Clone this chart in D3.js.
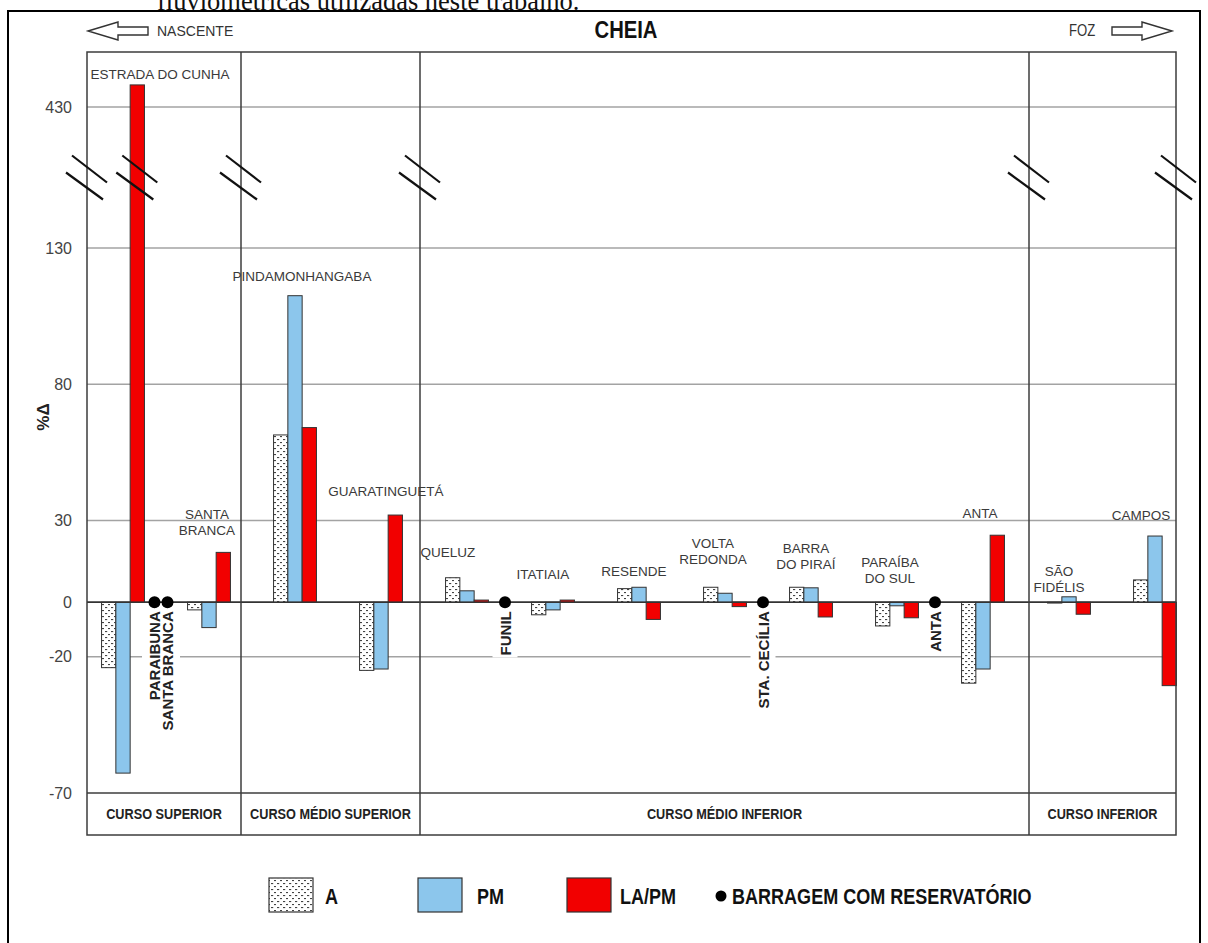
<!DOCTYPE html>
<html>
<head>
<meta charset="utf-8">
<script src="https://cdn.jsdelivr.net/npm/d3@7"></script>
<style>
  body { margin: 0; background: #fff; }
  svg { display: block; }
  .sans { font-family: "Liberation Sans", Arial, sans-serif; }
</style>
</head>
<body>
<svg id="chart" width="1208" height="943"></svg>
<script>
// ---- data ----------------------------------------------------------
const stations = ["ESTRADA DO CUNHA", "SANTA BRANCA", "PINDAMONHANGABA", "GUARATINGUETÁ",
  "QUELUZ", "ITATIAIA", "RESENDE", "VOLTA REDONDA", "BARRA DO PIRAÍ", "PARAÍBA DO SUL",
  "ANTA", "SÃO FIDÉLIS", "CAMPOS"];
const stationLines = [["ESTRADA DO CUNHA"], ["SANTA", "BRANCA"], ["PINDAMONHANGABA"], ["GUARATINGUETÁ"],
  ["QUELUZ"], ["ITATIAIA"], ["RESENDE"], ["VOLTA", "REDONDA"], ["BARRA", "DO PIRAÍ"], ["PARAÍBA", "DO SUL"],
  ["ANTA"], ["SÃO", "FIDÉLIS"], ["CAMPOS"]];
const seriesNames = ["A", "PM", "LA/PM"];
const valuesA    = [-24, -2.8, 61.4, -25, 9, -4.6, 5, 5.5, 5.5, -8.7, -29.7, -0.3, 8.2];
const valuesPM   = [-62.7, -9.3, 112.5, -24.5, 4.2, -2.8, 5.5, 3.3, 5.3, -1.3, -24.5, 2, 24.3];
const valuesLAPM = [477, 18.3, 64.1, 32, 0.8, 0.8, -6.3, -1.6, -5.4, -5.7, 24.6, -4.4, -30.6];
// dams with reservoir, listed with the gauging station just upstream of them
const damNames = ["PARAIBUNA", "SANTA BRANCA", "FUNIL", "STA. CECÍLIA", "ANTA"];
const damAfter = ["ESTRADA DO CUNHA", "ESTRADA DO CUNHA", "QUELUZ", "VOLTA REDONDA", "PARAÍBA DO SUL"];
const sectionNames = ["CURSO SUPERIOR", "CURSO MÉDIO SUPERIOR", "CURSO MÉDIO INFERIOR", "CURSO INFERIOR"];
const sectionFirst = ["ESTRADA DO CUNHA", "PINDAMONHANGABA", "QUELUZ", "SÃO FIDÉLIS"];
const yTicks = [-70, -20, 0, 30, 80, 130, 430];
const legendLabels = ["A", "PM", "LA/PM"];
const damLegendLabel = "BARRAGEM COM RESERVATÓRIO";

// ---- layout --------------------------------------------------------
const frame = { left: 87, right: 1176, top: 52, rowBottom: 835 };
const dividerNudge = [0, -11, -4, 3];
const labelNudge = {
  "ESTRADA DO CUNHA": [37, 12], "SANTA BRANCA": [-2, 0], "PINDAMONHANGABA": [7, 3],
  "GUARATINGUETÁ": [5, -2], "QUELUZ": [-19, -3], "ITATIAIA": [-10, -4], "RESENDE": [-5, 6],
  "VOLTA REDONDA": [-12, -6], "BARRA DO PIRAÍ": [-5, -1], "PARAÍBA DO SUL": [-7, -2],
  "ANTA": [-3, 0], "SÃO FIDÉLIS": [-10, 13], "CAMPOS": [-14, 1]
};
const colors = { "PM": "#8cc6ec", "LA/PM": "#f20000" };
const gridColor = "#a3a3a3", frameColor = "#3c3c3c";

const svg = d3.select("#chart");

// condensed lettering: regular sans squeezed horizontally
function narrowText(parent, x, yy, txt, size, opts = {}) {
  const g = parent.append("g").attr("transform", `translate(${x},${yy}) scale(${opts.squeeze || 0.82},1)`);
  return g.append("text").attr("x", 0).attr("y", 0)
    .attr("class", "sans").attr("font-size", size)
    .attr("font-weight", opts.weight || "normal")
    .attr("fill", opts.fill || "#111")
    .attr("text-anchor", opts.anchor || "start")
    .attr("dominant-baseline", "central")
    .text(txt);
}

// dotted fill for series A
const defs = svg.append("defs");
const pat = defs.append("pattern").attr("id", "dots").attr("patternUnits", "userSpaceOnUse")
  .attr("width", 6).attr("height", 6);
pat.append("rect").attr("width", 6).attr("height", 6).attr("fill", "#fff");
pat.append("rect").attr("x", 1).attr("y", 1).attr("width", 2.2).attr("height", 1.1).attr("fill", "#444");
pat.append("rect").attr("x", 4).attr("y", 4).attr("width", 2.2).attr("height", 1.1).attr("fill", "#444");

// scales: broken value axis (polylinear) and station bands
const y = d3.scaleLinear().domain([-70, 130, 430]).range([793, 248, 107]);
const x = d3.scaleBand().domain(stations).range([80, 1198]);
const step = x.step();
const barW = 14.3;
const xs = d3.scaleBand().domain(seriesNames)
  .range([x.bandwidth() / 2 - 1.5 * barW, x.bandwidth() / 2 + 1.5 * barW]);
const fillOf = k => k === "A" ? "url(#dots)" : colors[k];

// caption line of the page above the figure
svg.append("text").attr("x", 157).attr("y", 9.5)
  .attr("font-family", "Liberation Serif, Times New Roman, serif").attr("font-size", 26.5)
  .attr("fill", "#111").text("fluviométricas utilizadas neste trabalho.");

// outer box
svg.append("rect").attr("x", 8).attr("y", 11).attr("width", 1192).attr("height", 960)
  .attr("fill", "none").attr("stroke", "#000").attr("stroke-width", 2);

// section dividers
const dividers = sectionFirst.map((s, i) => i === 0 ? frame.left : x(s) + dividerNudge[i]);
const cells = dividers.map((d, i) => [d, i < dividers.length - 1 ? dividers[i + 1] : frame.right]);

// gridlines
const grid = svg.append("g");
grid.selectAll("line").data(yTicks.filter(t => t !== -70)).join("line")
  .attr("x1", frame.left).attr("x2", frame.right)
  .attr("y1", d => y(d)).attr("y2", d => y(d))
  .attr("stroke", d => d === 0 ? "#333" : gridColor)
  .attr("stroke-width", d => d === 0 ? 1.6 : 1.3);

// value axis labels
const yAxis = d3.axisLeft(y).tickValues(yTicks).tickSize(0).tickPadding(15).tickFormat(d => String(d));
const axG = svg.append("g").attr("transform", `translate(${frame.left},0)`).call(yAxis);
axG.select(".domain").remove();
axG.selectAll("text").attr("font-family", "Liberation Sans, Arial, sans-serif")
  .attr("font-size", 16).attr("fill", "#444");

svg.append("text").attr("transform", `translate(43,417) rotate(-90)`)
  .attr("text-anchor", "middle").attr("dominant-baseline", "central")
  .attr("class", "sans").attr("font-weight", "bold").attr("font-size", 17).attr("fill", "#222")
  .text("%Δ");

// bars
const rows = stations.map((s, i) => ({ station: s, vals: [valuesA[i], valuesPM[i], valuesLAPM[i]] }));
const groups = svg.append("g").selectAll("g").data(rows).join("g")
  .attr("transform", d => `translate(${x(d.station)},0)`);
groups.selectAll("rect").data(d => d.vals.map((v, k) => ({ key: seriesNames[k], v })))
  .join("rect")
  .attr("x", d => xs(d.key)).attr("width", xs.bandwidth())
  .attr("y", d => y(Math.max(0, d.v)))
  .attr("height", d => Math.abs(y(d.v) - y(0)))
  .attr("fill", d => fillOf(d.key))
  .attr("stroke", "#333").attr("stroke-width", 1);

// redraw zero line on top of bars
svg.append("line").attr("x1", frame.left).attr("x2", frame.right)
  .attr("y1", y(0)).attr("y2", y(0)).attr("stroke", "#333").attr("stroke-width", 1.4);

// frame, dividers and course row
const fr = svg.append("g").attr("stroke", frameColor).attr("stroke-width", 1.5).attr("fill", "none");
fr.append("rect").attr("x", frame.left).attr("y", frame.top)
  .attr("width", frame.right - frame.left).attr("height", frame.rowBottom - frame.top);
fr.append("line").attr("x1", frame.left).attr("x2", frame.right).attr("y1", y(-70)).attr("y2", y(-70));
fr.selectAll("line.div").data(dividers.slice(1)).join("line").attr("class", "div")
  .attr("x1", d => d).attr("x2", d => d).attr("y1", frame.top).attr("y2", frame.rowBottom);

const secG = svg.append("g");
sectionNames.forEach((name, i) => {
  narrowText(secG, (cells[i][0] + cells[i][1]) / 2, (y(-70) + frame.rowBottom) / 2, name, 15.5,
    { weight: "bold", anchor: "middle", fill: "#222" });
});

// scale-break marks
const yBreak = (y(130) + y(430)) / 2;
const estradaTop = x("ESTRADA DO CUNHA") + xs("LA/PM") + xs.bandwidth() / 2;
const breakXs = [frame.left, estradaTop, dividers[1], dividers[2], dividers[3], frame.right];
const brk = svg.append("g").attr("stroke", "#111").attr("stroke-width", 2.2);
breakXs.forEach(cx => {
  brk.append("line").attr("x1", cx - 15).attr("y1", yBreak - 22).attr("x2", cx + 20).attr("y2", yBreak + 5);
  brk.append("line").attr("x1", cx - 21).attr("y1", yBreak - 5).attr("x2", cx + 16).attr("y2", yBreak + 22);
});

// station labels
const lab = svg.append("g").attr("class", "sans").attr("font-size", 13.5).attr("fill", "#3a3a3a")
  .attr("text-anchor", "middle");
rows.forEach((r, i) => {
  const nd = labelNudge[r.station] || [0, 0];
  const cx = x(r.station) + step / 2 + nd[0];
  const top = y(Math.max(0, d3.max(r.vals))) - 22 + nd[1];
  const lines = stationLines[i];
  lines.forEach((t, j) => {
    lab.append("text").attr("x", cx).attr("y", top - (lines.length - 1 - j) * 16)
      .attr("dominant-baseline", "central").text(t);
  });
});

// dams: white backing under each vertical name, then the names, then the dots
const damPos = damNames.map((n, i) => {
  const same = damAfter.map((a, j) => ({ a, j })).filter(o => o.a === damAfter[i]).map(o => o.j);
  const k = same.indexOf(i), n2 = same.length;
  return x(damAfter[i]) + step - 5 + (k - (n2 - 1) / 2) * 13;
});
const damBg = svg.append("g"), damTx = svg.append("g");
damNames.forEach((n, i) => {
  const tf = `translate(${damPos[i]},${y(0) + 9}) rotate(-90)`;
  const t = damTx.append("text").attr("transform", tf)
    .attr("text-anchor", "end").attr("dominant-baseline", "central")
    .attr("class", "sans").attr("font-weight", "bold").attr("font-size", 15).attr("fill", "#222")
    .text(n);
  const bb = t.node().getBBox();
  damBg.append("rect").attr("transform", tf)
    .attr("x", bb.x - 2).attr("y", bb.y - 4).attr("width", bb.width + 4).attr("height", bb.height + 8)
    .attr("fill", "#fff");
});
svg.append("g").selectAll("circle").data(damPos).join("circle")
  .attr("cx", d => d).attr("cy", y(0)).attr("r", 6).attr("fill", "#000");

// header
narrowText(svg, 626, 30, "CHEIA", 23, { weight: "bold", anchor: "middle", fill: "#111", squeeze: 0.88 });
svg.append("text").attr("x", 157).attr("y", 31).attr("dominant-baseline", "central")
  .attr("class", "sans").attr("font-size", 14).attr("fill", "#333").text("NASCENTE");
narrowText(svg, 1069, 31, "FOZ", 16, { fill: "#333" });
const arrowPath = (tip, dir) => {
  // hollow block arrow; dir = -1 points left, +1 points right
  const hb = tip - dir * 30, tail = tip - dir * 60, cy = 31;
  return `M${tip},${cy} L${hb},${cy - 9} L${hb},${cy - 4} L${tail},${cy - 4} L${tail},${cy + 4} L${hb},${cy + 4} L${hb},${cy + 9} Z`;
};
svg.append("path").attr("d", arrowPath(88, -1)).attr("fill", "#fff").attr("stroke", "#333").attr("stroke-width", 1.4);
svg.append("path").attr("d", arrowPath(1172, 1)).attr("fill", "#fff").attr("stroke", "#333").attr("stroke-width", 1.4);

// legend
const legBoxX = [269, 418, 567], legTextX = [325, 477, 620];
const legY = 896;
const leg = svg.append("g");
legendLabels.forEach((name, i) => {
  leg.append("rect").attr("x", legBoxX[i]).attr("y", 878).attr("width", 44).attr("height", 34)
    .attr("fill", fillOf(name)).attr("stroke", "#333").attr("stroke-width", 1.2);
  narrowText(leg, legTextX[i], legY, name, 22, { weight: "bold", fill: "#111" });
});
leg.append("circle").attr("cx", 721).attr("cy", legY).attr("r", 5.5).attr("fill", "#000");
narrowText(leg, 732, legY, damLegendLabel, 22, { weight: "bold", fill: "#111" });
</script>
</body>
</html>
